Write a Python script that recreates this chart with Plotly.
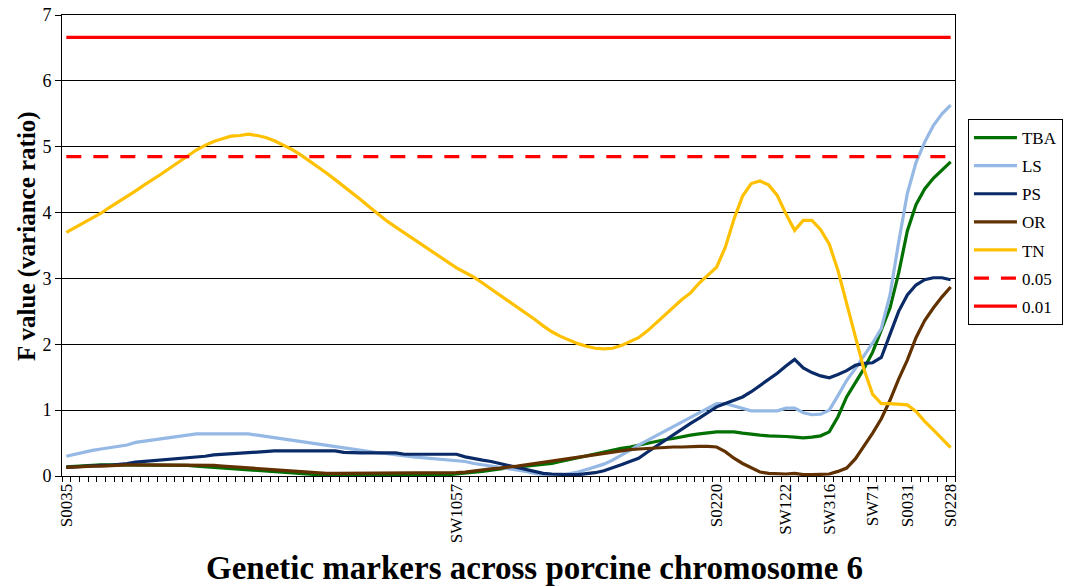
import plotly.graph_objects as go

# Marker positions along the chromosome (index of each scan point) and their labels
marker_pos = [0, 45, 75, 83, 88, 93, 97, 102]
marker_names = ["S0035", "SW1057", "S0220", "SW122", "SW316", "SW71", "S0031", "S0228"]

# F values at each scan point (0..102)
tba = [0.14, 0.15, 0.16, 0.17, 0.17, 0.17, 0.17, 0.17, 0.17, 0.17,
       0.17, 0.17, 0.17, 0.16, 0.16, 0.15, 0.14, 0.14, 0.13, 0.12,
       0.11, 0.10, 0.09, 0.07, 0.06, 0.05, 0.04, 0.03, 0.02, 0.02,
       0.01, 0.01, 0.01, 0.01, 0.01, 0.01, 0.01, 0.01, 0.01, 0.01,
       0.01, 0.01, 0.01, 0.01, 0.02, 0.03, 0.04, 0.05, 0.07, 0.09,
       0.11, 0.13, 0.14, 0.15, 0.16, 0.17, 0.19, 0.22, 0.25, 0.28,
       0.31, 0.33, 0.36, 0.39, 0.42, 0.44, 0.47, 0.50, 0.53, 0.55,
       0.57, 0.60, 0.62, 0.64, 0.66, 0.67, 0.67, 0.67, 0.65, 0.63,
       0.62, 0.61, 0.61, 0.60, 0.59, 0.58, 0.59, 0.61, 0.67, 0.90,
       1.20, 1.42, 1.63, 1.88, 2.20, 2.55, 3.08, 3.72, 4.12, 4.36,
       4.52, 4.64, 4.77]

ls = [0.30, 0.33, 0.37, 0.39, 0.41, 0.43, 0.45, 0.47, 0.51, 0.53,
      0.55, 0.57, 0.59, 0.61, 0.63, 0.64, 0.64, 0.64, 0.64, 0.64,
      0.64, 0.64, 0.62, 0.60, 0.58, 0.56, 0.54, 0.52, 0.50, 0.48,
      0.46, 0.44, 0.42, 0.40, 0.39, 0.37, 0.35, 0.34, 0.32, 0.31,
      0.29, 0.28, 0.27, 0.26, 0.25, 0.24, 0.22, 0.19, 0.17, 0.15,
      0.13, 0.12, 0.10, 0.07, 0.04, 0.02, 0.01, 0.01, 0.03, 0.06,
      0.10, 0.14, 0.18, 0.24, 0.31, 0.39, 0.47, 0.54, 0.60, 0.67,
      0.74, 0.81, 0.88, 0.96, 1.03, 1.10, 1.10, 1.06, 1.02, 0.99,
      0.99, 0.99, 0.99, 1.03, 1.03, 0.96, 0.93, 0.94, 1.00, 1.22,
      1.45, 1.63, 1.82, 2.02, 2.24, 2.75, 3.55, 4.29, 4.76, 5.07,
      5.32, 5.50, 5.63]

ps = [0.13, 0.14, 0.15, 0.15, 0.16, 0.16, 0.17, 0.19, 0.21, 0.22,
      0.23, 0.25, 0.26, 0.27, 0.28, 0.29, 0.30, 0.32, 0.33, 0.34,
      0.35, 0.35, 0.37, 0.38, 0.38, 0.38, 0.38, 0.38, 0.38, 0.38,
      0.38, 0.38, 0.36, 0.35, 0.35, 0.35, 0.35, 0.35, 0.35, 0.33,
      0.33, 0.33, 0.33, 0.33, 0.33, 0.33, 0.29, 0.26, 0.24, 0.22,
      0.19, 0.16, 0.12, 0.09, 0.06, 0.04, 0.03, 0.02, 0.02, 0.02,
      0.03, 0.05, 0.08, 0.12, 0.17, 0.22, 0.27, 0.36, 0.45, 0.54,
      0.63, 0.72, 0.80, 0.88, 0.97, 1.05, 1.10, 1.15, 1.20, 1.28,
      1.37, 1.46, 1.56, 1.67, 1.77, 1.64, 1.57, 1.52, 1.49, 1.54,
      1.60, 1.68, 1.71, 1.72, 1.80, 2.15, 2.50, 2.75, 2.90, 2.98,
      3.01, 3.01, 2.98]

orr = [0.13, 0.14, 0.14, 0.15, 0.15, 0.16, 0.16, 0.17, 0.17, 0.17,
       0.17, 0.17, 0.17, 0.17, 0.17, 0.17, 0.16, 0.16, 0.15, 0.14,
       0.13, 0.12, 0.11, 0.10, 0.09, 0.08, 0.07, 0.06, 0.05, 0.05,
       0.04, 0.04, 0.04, 0.04, 0.04, 0.04, 0.04, 0.04, 0.04, 0.04,
       0.04, 0.04, 0.04, 0.04, 0.04, 0.05, 0.06, 0.08, 0.10, 0.11,
       0.12, 0.13, 0.15, 0.17, 0.19, 0.21, 0.23, 0.25, 0.27, 0.29,
       0.31, 0.33, 0.35, 0.37, 0.39, 0.40, 0.41, 0.42, 0.43, 0.43,
       0.44, 0.44, 0.45, 0.45, 0.45, 0.44, 0.37, 0.27, 0.19, 0.12,
       0.06, 0.04, 0.03, 0.03, 0.04, 0.02, 0.02, 0.02, 0.03, 0.07,
       0.12, 0.26, 0.45, 0.65, 0.87, 1.15, 1.47, 1.76, 2.10, 2.36,
       2.55, 2.72, 2.87]

tn = [3.70, 3.77, 3.84, 3.92, 3.99, 4.08, 4.16, 4.25, 4.33, 4.42,
      4.50, 4.59, 4.68, 4.77, 4.86, 4.95, 5.02, 5.08, 5.12, 5.16,
      5.17, 5.19, 5.17, 5.14, 5.09, 5.03, 4.96, 4.88, 4.79, 4.70,
      4.60, 4.50, 4.40, 4.30, 4.19, 4.08, 3.97, 3.87, 3.78, 3.69,
      3.60, 3.51, 3.42, 3.33, 3.24, 3.16, 3.09, 3.02, 2.93, 2.84,
      2.75, 2.66, 2.57, 2.48, 2.38, 2.28, 2.19, 2.12, 2.06, 2.01,
      1.97, 1.94, 1.93, 1.94, 1.98, 2.04, 2.10, 2.20, 2.32, 2.44,
      2.56, 2.68, 2.78, 2.93, 3.05, 3.17, 3.47, 3.90, 4.25, 4.44,
      4.48, 4.42, 4.26, 3.98, 3.73, 3.88, 3.88, 3.74, 3.52, 3.12,
      2.62, 2.12, 1.62, 1.24, 1.10, 1.10, 1.09, 1.08, 0.98, 0.83,
      0.70, 0.56, 0.43]

# Significance thresholds
thr_05 = 4.85
thr_01 = 6.66

x = list(range(len(tn)))
x_ends = [x[0], x[-1]]

series = [
    ("TBA", tba, "#007000"),
    ("LS", ls, "#95B8E5"),
    ("PS", ps, "#0B2A68"),
    ("OR", orr, "#623100"),
    ("TN", tn, "#FFC000"),
]

fig = go.Figure()
for name, vals, color in series:
    fig.add_trace(go.Scatter(x=x, y=vals, name=name, mode="lines",
                             legendgroup=name,
                             line=dict(color=color, width=3.2)))

fig.add_trace(go.Scatter(x=x_ends, y=[thr_05, thr_05], name="0.05", mode="lines",
                         legendgroup="0.05",
                         line=dict(color="#FF0000", width=3.2, dash="15px,12px")))
fig.add_trace(go.Scatter(x=x_ends, y=[thr_01, thr_01], name="0.01", mode="lines",
                         legendgroup="0.01",
                         line=dict(color="#FF0000", width=3.2)))

serif = "Liberation Serif, Times New Roman, serif"

fig.update_layout(
    width=1069, height=587,
    margin=dict(l=62, r=114, t=15, b=111, autoexpand=False),
    paper_bgcolor="white", plot_bgcolor="white",
    font=dict(family=serif, size=17, color="black"),
    showlegend=True,
    legend=dict(x=1.0145, xanchor="left", y=0.551, yanchor="middle",
                bordercolor="black", borderwidth=1,
                font=dict(family=serif, size=17, color="black"),
                tracegroupgap=3, traceorder="grouped",
                itemwidth=43),
    xaxis=dict(
        range=[-0.5, len(x) - 0.5],
        tickmode="array", tickvals=marker_pos, ticktext=marker_names,
        tickangle=-90, ticks="",
        tickfont=dict(family=serif, size=17),
        showgrid=False, zeroline=False,
        showline=True, linecolor="black", linewidth=1, mirror=True,
        minor=dict(ticks="outside", tick0=-0.5, dtick=1, ticklen=5,
                   tickcolor="black", showgrid=False),
        automargin=False,
    ),
    yaxis=dict(
        range=[0, 7], dtick=1, tick0=0,
        ticks="outside", ticklen=6, tickcolor="black",
        tickfont=dict(family=serif, size=18),
        showgrid=True, gridcolor="black", gridwidth=1,
        zeroline=False,
        showline=True, linecolor="black", linewidth=1, mirror=True,
        automargin=False,
    ),
    annotations=[
        dict(text="<b>Genetic markers across porcine chromosome 6</b>",
             xref="paper", yref="paper", x=0.5286, y=-0.1996,
             xanchor="center", yanchor="middle", showarrow=False,
             font=dict(family=serif, size=33, color="black")),
        dict(text="<b>F value (variance ratio)</b>",
             xref="paper", yref="paper", x=-0.0392, y=0.5206,
             xanchor="center", yanchor="middle", textangle=-90, showarrow=False,
             font=dict(family=serif, size=25, color="black")),
    ],
)

fig.write_html("out.html")
